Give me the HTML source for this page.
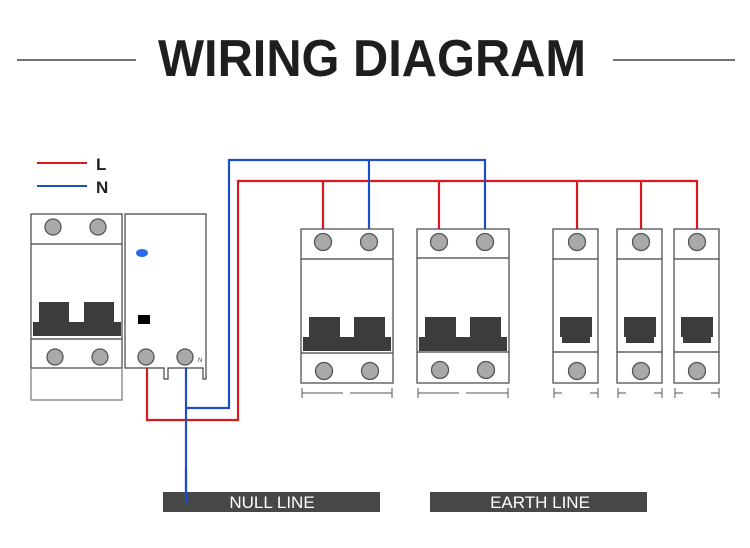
<!DOCTYPE html>
<html><head><style>html,body{margin:0;padding:0;background:#fff;}svg{display:block;}</style></head>
<body>
<svg width="750" height="548" viewBox="0 0 750 548" xmlns="http://www.w3.org/2000/svg">
<rect width="750" height="548" fill="#fff"/>
<line x1="17" y1="60" x2="136" y2="60" stroke="#222" stroke-width="1.3"/>
<line x1="613" y1="60" x2="735" y2="60" stroke="#222" stroke-width="1.3"/>
<text x="158" y="76" font-family="Liberation Sans, sans-serif" font-weight="bold" font-size="52" fill="#1e1e1e" textLength="428" lengthAdjust="spacingAndGlyphs">WIRING DIAGRAM</text>

<line x1="37" y1="163" x2="87" y2="163" stroke="#d9181f" stroke-width="2"/>
<line x1="37" y1="186" x2="87" y2="186" stroke="#1a4fc8" stroke-width="2"/>
<text x="96" y="170" font-family="Liberation Sans, sans-serif" font-weight="bold" font-size="17" fill="#222">L</text>
<text x="96" y="193" font-family="Liberation Sans, sans-serif" font-weight="bold" font-size="17" fill="#222">N</text>

<g fill="none" stroke-width="2.2">
<polyline points="147,368 147,420 238,420 238,181 697,181 697,230" stroke="#d9181f"/>
<line x1="323" y1="181" x2="323" y2="230" stroke="#d9181f"/>
<line x1="439" y1="181" x2="439" y2="230" stroke="#d9181f"/>
<line x1="577" y1="181" x2="577" y2="230" stroke="#d9181f"/>
<line x1="641" y1="181" x2="641" y2="230" stroke="#d9181f"/>
<polyline points="186,368 186,503" stroke="#1a4fc8"/>
<polyline points="186,408 229,408 229,160 485,160 485,230" stroke="#1a4fc8"/>
<line x1="369" y1="160" x2="369" y2="230" stroke="#1a4fc8"/>
</g>

<g stroke="#444" stroke-width="1.2" fill="#fff">
<!-- left breaker -->
<rect x="31" y="214" width="91" height="154"/>
<line x1="31" y1="244" x2="122" y2="244"/>
<line x1="31" y1="339" x2="122" y2="339"/>
<path d="M31,368 V400 H122 V368" fill="none" stroke="#777"/>
<!-- RCD -->
<path d="M125,214 H206 V379 H203 V368 H168 V379 H164 V368 H125 Z"/>
<!-- B1 -->
<rect x="301" y="229" width="92" height="154"/>
<line x1="301" y1="259" x2="393" y2="259"/>
<line x1="301" y1="353" x2="393" y2="353"/>
<!-- B2 -->
<rect x="417" y="229" width="92" height="154"/>
<line x1="417" y1="258" x2="509" y2="258"/>
<line x1="417" y1="352" x2="509" y2="352"/>
<!-- singles -->
<rect x="553" y="229" width="45" height="154"/>
<line x1="553" y1="259" x2="598" y2="259"/>
<line x1="553" y1="352" x2="598" y2="352"/>
<rect x="617" y="229" width="45" height="154"/>
<line x1="617" y1="259" x2="662" y2="259"/>
<line x1="617" y1="352" x2="662" y2="352"/>
<rect x="674" y="229" width="45" height="154"/>
<line x1="674" y1="259" x2="719" y2="259"/>
<line x1="674" y1="352" x2="719" y2="352"/>
</g>

<g fill="#3c3c3c">
<rect x="33" y="322" width="88" height="14"/><rect x="39" y="302" width="30" height="20"/><rect x="84" y="302" width="30" height="20"/>
<rect x="303" y="337" width="88" height="14"/><rect x="309" y="317" width="31" height="20"/><rect x="354" y="317" width="31" height="20"/>
<rect x="419" y="337" width="88" height="14"/><rect x="425" y="317" width="31" height="20"/><rect x="470" y="317" width="31" height="20"/>
<rect x="560" y="317" width="32" height="20"/><rect x="562" y="337" width="28" height="6"/>
<rect x="624" y="317" width="32" height="20"/><rect x="626" y="337" width="28" height="6"/>
<rect x="681" y="317" width="32" height="20"/><rect x="683" y="337" width="28" height="6"/>
<rect x="138" y="315" width="12" height="9" fill="#000"/>
</g>
<ellipse cx="142" cy="253" rx="6" ry="4" fill="#2a6ae8"/>
<text x="198" y="362" font-family="Liberation Sans, sans-serif" font-size="6" fill="#444">N</text>

<g fill="#a9a9a9" stroke="#555" stroke-width="1.3">
<circle cx="53" cy="227" r="8"/><circle cx="98" cy="227" r="8"/>
<circle cx="55" cy="357" r="8"/><circle cx="100" cy="357" r="8"/>
<circle cx="146" cy="357" r="8"/><circle cx="185" cy="357" r="8"/>
<circle cx="323" cy="242" r="8.5"/><circle cx="369" cy="242" r="8.5"/>
<circle cx="324" cy="371" r="8.5"/><circle cx="370" cy="371" r="8.5"/>
<circle cx="439" cy="242" r="8.5"/><circle cx="485" cy="242" r="8.5"/>
<circle cx="440" cy="370" r="8.5"/><circle cx="486" cy="370" r="8.5"/>
<circle cx="577" cy="242" r="8.5"/><circle cx="577" cy="371" r="8.5"/>
<circle cx="641" cy="242" r="8.5"/><circle cx="641" cy="371" r="8.5"/>
<circle cx="697" cy="242" r="8.5"/><circle cx="697" cy="371" r="8.5"/>
</g>

<g stroke="#555" stroke-width="1">
<path d="M302,388V398M302,393H343M350,393H392M392,388V398"/>
<path d="M418,388V398M418,393H459M466,393H508M508,388V398"/>
<path d="M554,388V398M554,393H562M590,393H598M598,388V398"/>
<path d="M618,388V398M618,393H626M654,393H662M662,388V398"/>
<path d="M675,388V398M675,393H683M711,393H719M719,388V398"/>
</g>

<rect x="163" y="492" width="217" height="20" fill="#474747"/>
<rect x="430" y="492" width="217" height="20" fill="#474747"/>
<line x1="186" y1="470" x2="186" y2="503" stroke="#1a4fc8" stroke-width="2.2"/>
<text x="272" y="508" text-anchor="middle" font-family="Liberation Sans, sans-serif" font-size="17" fill="#fff">NULL LINE</text>
<text x="540" y="508" text-anchor="middle" font-family="Liberation Sans, sans-serif" font-size="17" fill="#fff">EARTH LINE</text>
</svg>
</body></html>
